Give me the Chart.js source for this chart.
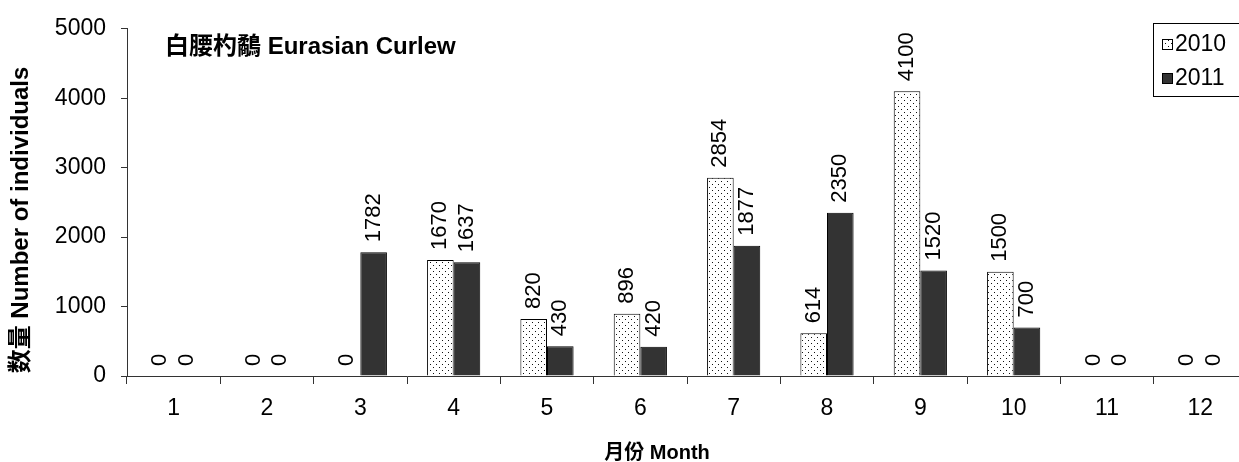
<!DOCTYPE html>
<html lang="zh-Hant">
<head>
  <meta charset="UTF-8">
  <title>白腰杓鷸 Eurasian Curlew</title>
  <script src="https://cdn.jsdelivr.net/npm/chart.js"></script>
  <style>
    html, body { margin: 0; padding: 0; background: #fff; overflow: hidden; }
    canvas { display: block; }
  </style>
</head>
<body>
  <canvas id="grafico" width="1250" height="462"></canvas>

  <script>
    // Dados
    const meses = ["1", "2", "3", "4", "5", "6", "7", "8", "9", "10", "11", "12"];
    const valores2010 = [0, 0, 0, 1670, 820, 896, 2854, 614, 4100, 1500, 0, 0];
    const valores2011 = [0, 0, 1782, 1637, 430, 420, 1877, 2350, 1520, 700, 0, 0];
    const ticksY = [0, 1000, 2000, 3000, 4000, 5000];

    const FONTE = '"Liberation Sans", Arial, "Noto Sans CJK TC", sans-serif';

    // Padrão pontilhado para 2010
    function criarPadrao() {
      const c = document.createElement("canvas");
      c.width = 6;
      c.height = 6;
      const g = c.getContext("2d");
      g.fillStyle = "#ffffff";
      g.fillRect(0, 0, 6, 6);
      g.fillStyle = "#111111";
      g.fillRect(1, 1, 1, 1);
      g.fillRect(4, 4, 1, 1);
      return g.createPattern(c, "repeat");
    }
    const padrao = criarPadrao();

    // Rótulos de valor, título e legenda
    const extras = {
      id: "extras",
      afterDatasetsDraw(chart) {
        const ctx = chart.ctx;
        ctx.save();
        ctx.fillStyle = "#000";
        ctx.font = "22px " + FONTE;
        ctx.textAlign = "left";
        ctx.textBaseline = "middle";
        chart.data.datasets.forEach((ds, i) => {
          chart.getDatasetMeta(i).data.forEach((bar, j) => {
            ctx.save();
            ctx.translate(bar.x, bar.y - 10);
            ctx.rotate(-Math.PI / 2);
            ctx.fillText(String(ds.data[j]), 0, 0);
            ctx.restore();
          });
        });
        ctx.restore();
      },
      afterDraw(chart) {
        const ctx = chart.ctx;
        ctx.save();
        ctx.fillStyle = "#000";

        // título dentro do gráfico
        ctx.font = "bold 24px " + FONTE;
        ctx.textAlign = "left";
        ctx.textBaseline = "middle";
        ctx.fillText("白腰杓鷸 Eurasian Curlew", 165, 47);

        // título do eixo x
        ctx.font = "bold 20px " + FONTE;
        ctx.textAlign = "center";
        ctx.fillText("月份 Month", 657, 453);

        // título do eixo y
        ctx.save();
        ctx.translate(21, 220);
        ctx.rotate(-Math.PI / 2);
        ctx.font = "bold 24px " + FONTE;
        ctx.fillText("数量 Number of individuals", 0, 0);
        ctx.restore();

        // legenda
        ctx.lineWidth = 1;
        ctx.strokeStyle = "#000";
        ctx.fillStyle = "#fff";
        ctx.fillRect(1153.5, 23.5, 100, 73);
        ctx.strokeRect(1153.5, 23.5, 100, 73);
        const itens = [
          { texto: "2010", cor: padrao, y: 44 },
          { texto: "2011", cor: "#333333", y: 78 }
        ];
        ctx.font = "23px " + FONTE;
        ctx.textAlign = "left";
        itens.forEach(it => {
          ctx.fillStyle = it.cor;
          ctx.fillRect(1162, it.y - 5, 10, 10);
          ctx.strokeRect(1162.5, it.y - 4.5, 10, 10);
          ctx.fillStyle = "#000";
          ctx.fillText(it.texto, 1175, it.y + 1);
        });
        ctx.restore();
      }
    };

    const ctx = document.getElementById("grafico").getContext("2d");
    new Chart(ctx, {
      type: "bar",
      data: {
        labels: meses,
        datasets: [
          {
            label: "2010",
            data: valores2010,
            backgroundColor: padrao,
            borderColor: "#000",
            borderWidth: 1,
            barPercentage: 1,
            categoryPercentage: 0.57
          },
          {
            label: "2011",
            data: valores2011,
            backgroundColor: "#333333",
            borderColor: "#000",
            borderWidth: 1,
            barPercentage: 1,
            categoryPercentage: 0.57
          }
        ]
      },
      options: {
        responsive: false,
        animation: false,
        layout: { padding: { left: 0, right: 3, top: 25, bottom: 0 } },
        plugins: {
          legend: { display: false },
          title: { display: false },
          tooltip: { enabled: false }
        },
        scales: {
          x: {
            offset: true,
            grid: {
              offset: true,
              drawOnChartArea: false,
              tickLength: 8,
              color: "#333"
            },
            border: { color: "#333", width: 1 },
            ticks: {
              color: "#000",
              font: { family: FONTE, size: 23 },
              padding: 11,
              maxRotation: 0
            },
            afterFit(scale) { scale.height = 86; }
          },
          y: {
            min: 0,
            max: 5000,
            afterBuildTicks(scale) {
              scale.ticks = ticksY.map(v => ({ value: v }));
            },
            grid: {
              drawOnChartArea: false,
              tickLength: 6,
              color: "#333"
            },
            border: { color: "#333", width: 1 },
            ticks: {
              color: "#000",
              font: { family: FONTE, size: 23 },
              padding: 15,
              callback: v => String(v)
            },
            afterFit(scale) { scale.width = 127; }
          }
        }
      },
      plugins: [extras]
    });
  </script>
</body>
</html>
